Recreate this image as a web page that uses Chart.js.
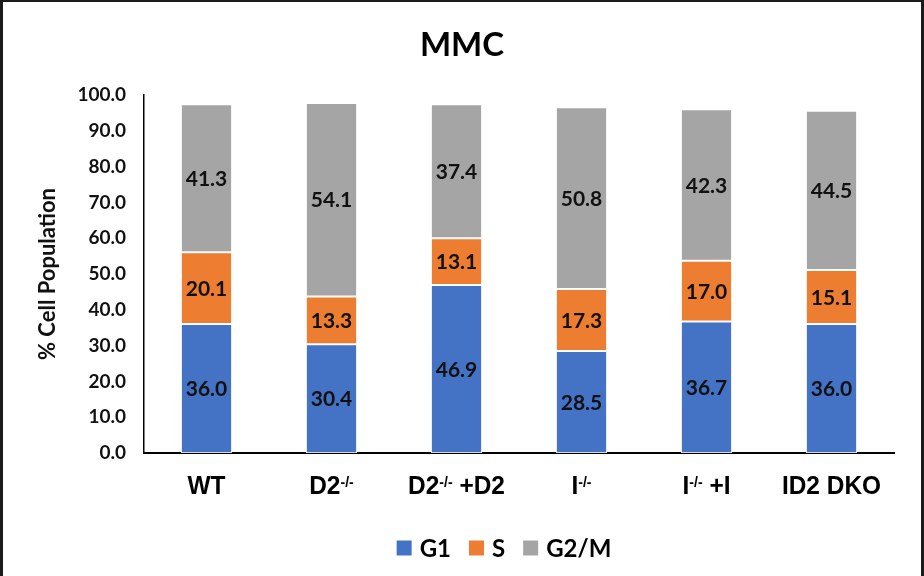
<!DOCTYPE html>
<html>
<head>
<meta charset="utf-8">
<script src="https://cdn.jsdelivr.net/npm/chart.js@4.4.1/dist/chart.umd.min.js"></script>
<style>
  html, body { margin: 0; padding: 0; background: #fff; }
  #wrap { width: 924px; height: 576px; position: relative; }
</style>
</head>
<body>
<div id="wrap"><canvas id="chart" width="924" height="576"></canvas></div>
<script>
// Cell-cycle distribution after MMC treatment, per genotype
const chartTitle = 'MMC';
const categories = ['WT', 'D2-/-', 'D2-/- +D2', 'I-/-', 'I-/- +I', 'ID2 DKO'];
const seriesNames = ['G1', 'S', 'G2/M'];
const g1Values = [36.0, 30.4, 46.9, 28.5, 36.7, 36.0];
const sValues = [20.1, 13.3, 13.1, 17.3, 17.0, 15.1];
const g2mValues = [41.3, 54.1, 37.4, 50.8, 42.3, 44.5];
const yTicks = [0, 10, 20, 30, 40, 50, 60, 70, 80, 90, 100];

const colors = ['#4472C4', '#ED7D31', '#A5A5A5'];
const LATO = 'Lato, "Open Sans", sans-serif';
const ARIAL = '"Liberation Sans", Arial, sans-serif';

// white page with a dark frame on the left, top and right, plus the title
const framePlugin = {
  id: 'frame',
  beforeDraw(chart) {
    const { ctx, width, height } = chart;
    ctx.save();
    ctx.fillStyle = '#fff';
    ctx.fillRect(0, 0, width, height);
    ctx.fillStyle = '#1b1b1b';
    ctx.fillRect(0, 0, 3, height);
    ctx.fillRect(0, 0, width, 2);
    ctx.fillRect(width - 3, 0, 3, height);
    ctx.fillStyle = '#000';
    ctx.font = 'bold 33px ' + LATO;
    ctx.textAlign = 'center';
    ctx.textBaseline = 'middle';
    ctx.fillText(chartTitle, width / 2, 45);
    ctx.restore();
  }
};

// value written in the middle of every bar segment
const segmentLabels = {
  id: 'segmentLabels',
  afterDatasetsDraw(chart) {
    const { ctx } = chart;
    ctx.save();
    ctx.font = 'bold 21px ' + LATO;
    ctx.fillStyle = '#111';
    ctx.textAlign = 'center';
    ctx.textBaseline = 'middle';
    chart.data.datasets.forEach((ds, di) => {
      const meta = chart.getDatasetMeta(di);
      meta.data.forEach((bar, i) => {
        const v = ds.data[i];
        const cy = (bar.y + bar.base) / 2;
        ctx.fillText(v.toFixed(1), bar.x, cy + 1);
      });
    });
    ctx.restore();
  }
};

// category names under the x axis, with "-/-" set as a superscript
const categoryLabels = {
  id: 'categoryLabels',
  afterDraw(chart) {
    const { ctx } = chart;
    const xs = chart.scales.x;
    const baseline = chart.chartArea.bottom + 41;
    const mainFont = 'bold 26px ' + ARIAL;
    const supFont = 'bold 15px ' + ARIAL;
    const squeeze = 0.94;
    ctx.save();
    ctx.fillStyle = '#000';
    ctx.textBaseline = 'alphabetic';
    ctx.textAlign = 'left';
    chart.data.labels.forEach((label, i) => {
      const parts = label.split(/(-\/-)/).filter(p => p.length);
      const segs = parts.map(p => ({ text: p, sup: p === '-/-' }));
      let total = 0;
      segs.forEach(s => {
        ctx.font = s.sup ? supFont : mainFont;
        s.w = ctx.measureText(s.text).width;
        total += s.w;
      });
      const cx = xs.getPixelForValue(i);
      ctx.save();
      ctx.translate(cx, baseline);
      ctx.scale(squeeze, 1);
      let x = -total / 2;
      segs.forEach(s => {
        ctx.font = s.sup ? supFont : mainFont;
        ctx.fillText(s.text, x, s.sup ? -7 : 0);
        x += s.w;
      });
      ctx.restore();
    });
    ctx.restore();
  }
};

// legend row below the axis labels
const legendRow = {
  id: 'legendRow',
  afterDraw(chart) {
    const { ctx } = chart;
    const area = chart.chartArea;
    const box = 15, gapText = 8, gapItem = 18;
    ctx.save();
    ctx.font = 'bold 24px ' + LATO;
    const items = chart.data.datasets.map(ds => ({
      text: ds.label, color: ds.backgroundColor, w: ctx.measureText(ds.label).width
    }));
    const total = items.reduce((a, it) => a + box + gapText + it.w, 0) + gapItem * (items.length - 1);
    let x = (area.left + area.right) / 2 - 15 - total / 2;
    const cy = area.bottom + 95;
    ctx.textBaseline = 'middle';
    ctx.textAlign = 'left';
    items.forEach(it => {
      ctx.fillStyle = it.color;
      ctx.fillRect(x, cy - box / 2, box, box);
      x += box + gapText;
      ctx.fillStyle = '#000';
      ctx.fillText(it.text, x, cy + 1);
      x += it.w + gapItem;
    });
    ctx.restore();
  }
};

const valueSets = [g1Values, sValues, g2mValues];

new Chart(document.getElementById('chart'), {
  type: 'bar',
  data: {
    labels: categories,
    datasets: seriesNames.map((name, k) => ({
      label: name,
      data: valueSets[k],
      backgroundColor: colors[k],
      borderColor: 'rgba(255,255,255,0.85)',
      borderWidth: 1,
      borderSkipped: false,
      barPercentage: 0.41,
      categoryPercentage: 1.0
    }))
  },
  options: {
    responsive: false,
    animation: false,
    devicePixelRatio: 1,
    layout: { padding: { left: 0, right: 30, top: 95, bottom: 123 } },
    plugins: {
      legend: { display: false },
      tooltip: { enabled: false },
      title: { display: false }
    },
    scales: {
      x: {
        stacked: true,
        grid: { display: false, drawTicks: false },
        border: { display: true, color: '#000', width: 2 },
        ticks: { display: false }
      },
      y: {
        stacked: true,
        min: 0,
        max: 100,
        afterBuildTicks(scale) {
          scale.ticks = yTicks.map(v => ({ value: v }));
        },
        afterFit(scale) { scale.width = 144; },
        grid: { display: false, drawTicks: false },
        border: { display: true, color: '#000', width: 1.5 },
        ticks: {
          color: '#111',
          padding: 18,
          font: { family: LATO, size: 19, weight: 'bold' },
          callback: v => Number(v).toFixed(1)
        },
        title: {
          display: true,
          text: '% Cell Population',
          color: '#111',
          font: { family: LATO, size: 22, weight: 'bold' },
          padding: { top: 35, bottom: 0 }
        }
      }
    }
  },
  plugins: [framePlugin, segmentLabels, categoryLabels, legendRow]
});
</script>
</body>
</html>
